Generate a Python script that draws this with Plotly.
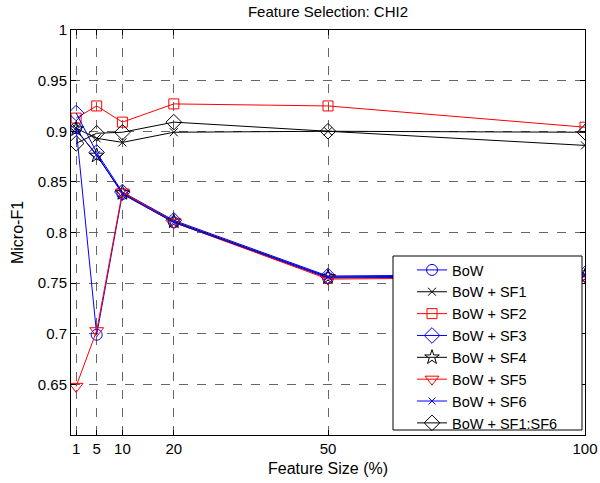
import plotly.graph_objects as go

# Feature size (%) and Micro-F1 for each feature set
feature_size = [1, 5, 10, 20, 50, 100]

bow = [0.903, 0.699, 0.838, 0.810, 0.755, 0.757]
bow_sf1 = [0.903, 0.893, 0.889, 0.899, 0.900, 0.886]
bow_sf2 = [0.913, 0.925, 0.909, 0.927, 0.925, 0.904]
bow_sf3 = [0.918, 0.879, 0.840, 0.812, 0.757, 0.759]
bow_sf4 = [0.902, 0.876, 0.839, 0.811, 0.756, 0.757]
bow_sf5 = [0.648, 0.703, 0.840, 0.810, 0.754, 0.756]
bow_sf6 = [0.901, 0.877, 0.838, 0.810, 0.756, 0.758]
bow_all = [0.888, 0.898, 0.899, 0.909, 0.900, 0.899]

series_names = ["BoW", "BoW + SF1", "BoW + SF2", "BoW + SF3",
                "BoW + SF4", "BoW + SF5", "BoW + SF6", "BoW + SF1:SF6"]
series_values = [bow, bow_sf1, bow_sf2, bow_sf3, bow_sf4, bow_sf5, bow_sf6, bow_all]
series_colors = ["#0000ff", "#000000", "#ff0000", "#0000ff",
                 "#000000", "#ff0000", "#0000ff", "#000000"]
series_symbols = ["circle-open", "x-thin-open", "square-open", "diamond-open",
                  "star-open", "triangle-down-open", "x-thin-open", "diamond-open"]
series_sizes = [11, 8, 10, 12, 11, 12, 7, 12]

y_ticks = [0.65, 0.7, 0.75, 0.8, 0.85, 0.9, 0.95, 1.0]
y_tick_text = ["0.65", "0.7", "0.75", "0.8", "0.85", "0.9", "0.95", "1"]
x_tick_text = ["1", "5", "10", "20", "50", "100"]

FONT = "Liberation Sans, Arial, sans-serif"
TXT = dict(family=FONT, size=15, color="black")
TITLE_TXT = dict(family=FONT, size=16, color="black")

fig = go.Figure()
for name, vals, col, sym, sz in zip(series_names, series_values, series_colors,
                                     series_symbols, series_sizes):
    fig.add_trace(go.Scatter(
        x=feature_size, y=vals, name=name, mode="lines+markers",
        line=dict(color=col, width=1),
        marker=dict(symbol=sym, size=sz, color=col, line=dict(color=col, width=1)),
    ))

axis_common = dict(
    showline=True, linecolor="black", linewidth=1, mirror="ticks",
    ticks="inside", ticklen=5, tickcolor="black", tickwidth=1,
    showgrid=True, gridcolor="#666666", griddash="dash", gridwidth=1,
    zeroline=False, tickfont=TXT, ticklabeloverflow="allow", automargin=False,
)

# axes box in pixels, used to place the legend frame
PLOT_L, PLOT_W, PLOT_T, PLOT_H = 71, 514, 30, 405
def px_x(p):
    return (p - PLOT_L) / PLOT_W
def px_y(p):
    return 1 - (p - PLOT_T) / PLOT_H

# legend frame (opaque white box in the lower right of the axes)
fig.add_shape(type="rect", xref="paper", yref="paper",
              x0=px_x(393), x1=px_x(582), y0=px_y(430), y1=px_y(256),
              fillcolor="white", line=dict(color="black", width=1), layer="above")

fig.update_layout(
    width=600, height=483,
    margin=dict(l=PLOT_L, r=600 - PLOT_L - PLOT_W, t=PLOT_T, b=483 - PLOT_T - PLOT_H),
    paper_bgcolor="white", plot_bgcolor="white",
    font=TXT,
    title=dict(text="Feature Selection: CHI2", x=0.5, xref="paper",
               y=1 - 12 / 483, yanchor="middle", font=TXT, automargin=False),
    xaxis=dict(range=[0, 100], tickvals=feature_size, ticktext=x_tick_text,
               title=dict(text="Feature Size (%)", standoff=6, font=TITLE_TXT),
               **axis_common),
    yaxis=dict(range=[0.6, 1.0], tickvals=y_ticks, ticktext=y_tick_text,
               title=dict(text="Micro-F1", standoff=10, font=TITLE_TXT),
               **axis_common),
    legend=dict(x=px_x(412), y=px_y(254), xanchor="left", yanchor="top",
                bgcolor="rgba(0,0,0,0)", borderwidth=0,
                font=dict(family=FONT, size=14.5, color="black"),
                tracegroupgap=0),
    showlegend=True,
)

fig.write_html("out.html")
